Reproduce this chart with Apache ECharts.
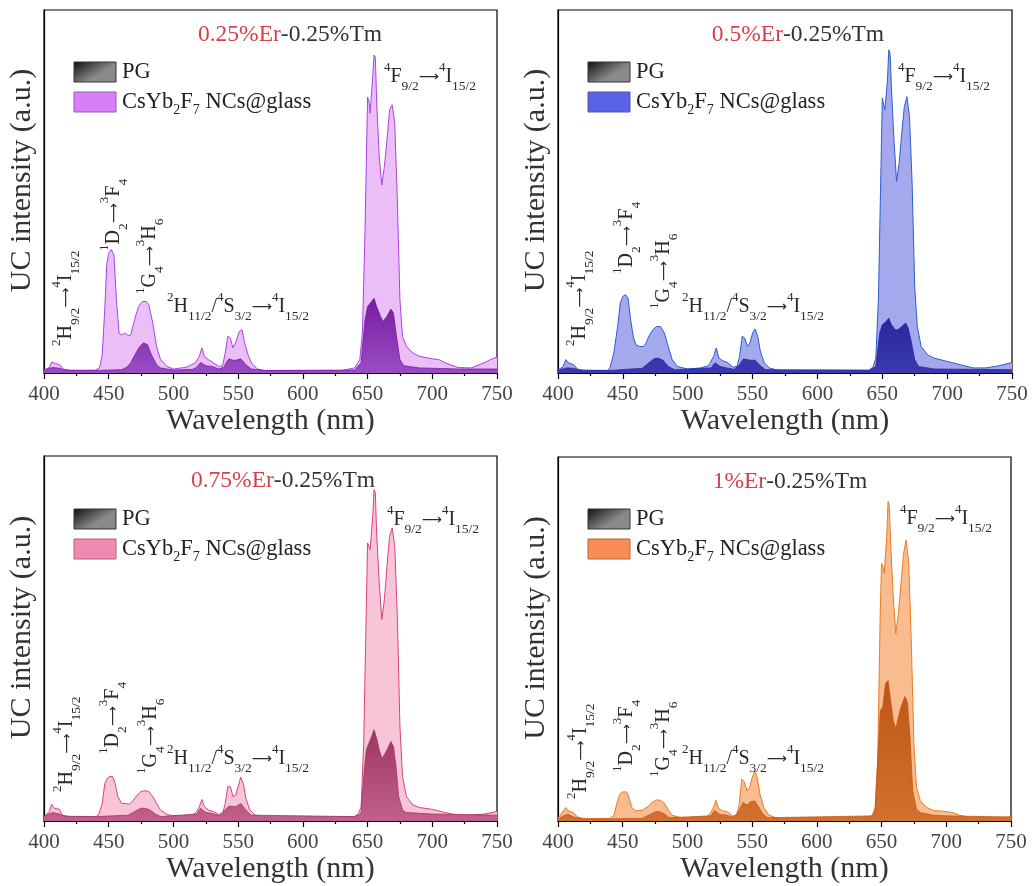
<!DOCTYPE html>
<html><head><meta charset="utf-8">
<script src="https://cdn.jsdelivr.net/npm/echarts@6/dist/echarts.min.js"></script>
<style>html,body{margin:0;padding:0;background:#fff}#c{width:1032px;height:886px}</style>
</head><body><div id="c"></div>
<script>
// ---------------- data ----------------
const xTickValues = [400, 450, 500, 550, 600, 650, 700, 750];
const erLabels = ['0.25%Er', '0.5%Er', '0.75%Er', '1%Er'];
const tmLabel = '-0.25%Tm';
const seriesNames = ['PG', 'CsYb2F7 NCs@glass'];
const xName = 'Wavelength (nm)';
const yName = 'UC intensity (a.u.)';

const glass1 = [[400,0.8],[404,1.5],[406,3.0],[407,3.5],[409,2.6],[412,2.3],[415,1.1],[420,0.7],[430,0.7],[440,0.8],[443,1.5],[445,5],[447,18],[448.5,30],[450,33],[451,33],[452,34],[454,32.5],[456,20],[458,11],[460,10.5],[463,11],[465,10.3],[467,10.5],[470,14.7],[473,18.3],[476,19.7],[479,19.7],[481,18.8],[484,13.8],[487,7.3],[490,3.7],[495,1.8],[500,1.1],[510,1.6],[517,2.8],[520,4.6],[522,6.9],[524,4.5],[527,3.7],[531,2.8],[535,1.8],[538,2.0],[540,5.5],[542,10.1],[544,9.6],[546,6.9],[548,8.3],[551,11.5],[553,11.9],[555,8.3],[558,4.6],[561,2.3],[565,1.1],[570,0.7],[600,0.7],[630,0.7],[640,1.4],[644,3.7],[646,11],[648,38.5],[650,76],[651,75],[652,71.6],[654,81.7],[655,87.6],[656,87],[657,75],[659,59.6],[661,51.8],[663,56.9],[665,64.2],[667,72.5],[669,73.9],[671,68.8],[673,47.7],[675,20.2],[677,10.1],[680,7.3],[685,5.5],[690,4.6],[700,3.9],[705,3.7],[710,2.8],[720,1.5],[730,1.4],[740,2.8],[745,3.7],[750,4.4]];
const pg1 = [[400,0.7],[404,1.3],[407,1.5],[412,1.3],[416,0.8],[440,0.7],[460,0.9],[464,1.6],[467,2.8],[471,5.5],[474,7.3],[477,8.3],[480,7.8],[483,5],[487,2.3],[490,1.4],[500,0.8],[515,1.0],[518,1.6],[521,2.9],[525,2.0],[530,1.8],[535,1.1],[539,1.6],[541,3.0],[543,3.9],[546,3.5],[548,3.5],[552,3.9],[556,2.3],[560,1.1],[570,0.7],[640,0.8],[645,2.8],[648,14.7],[650,18.3],[653,19.7],[655,20.6],[657,18.3],[660,15.6],[662,14.2],[665,15.6],[668,17.6],[670,16.5],[672,11],[675,3.7],[678,2.0],[690,1.4],[720,1.1],[750,1.1]];

const glass2 = [[400,0.8],[404,1.8],[406,3.7],[408,2.8],[412,2.3],[415,1.1],[420,0.7],[438,0.7],[440,1.4],[443,5.5],[446,12.8],[448,19.3],[450,21.1],[452,21.6],[454,20.6],[456,14.7],[458,10.1],[460,7.8],[463,7.3],[466,7.3],[468,8.3],[470,10.1],[473,11.9],[476,12.8],[479,12.8],[482,11],[485,7.3],[488,3.7],[492,1.8],[500,1.1],[510,1.4],[516,2.0],[520,4.6],[522,6.9],[524,4.1],[527,3.4],[531,2.8],[535,1.6],[538,1.8],[540,4.6],[542,10.1],[544,9.6],[546,7.3],[548,8.3],[550,11],[552,12.1],[554,10.1],[556,6],[559,2.8],[563,1.4],[570,0.7],[640,0.7],[643,1.8],[645,4.1],[647,20.2],[649,56.9],[650,75.7],[651,75.2],[652,72.5],[654,80.7],[655,89],[656,88],[657,78.9],[659,64.2],[661,52.8],[663,57.8],[665,66],[667,73.4],[669,76.1],[671,70.6],[673,52.3],[675,23.9],[677,12.8],[680,7.3],[685,5],[690,4.1],[700,3.2],[710,2.3],[720,1.4],[730,1.4],[740,2.0],[750,2.9]];
const pg2 = [[400,0.7],[404,1.2],[407,1.4],[412,1.3],[416,0.8],[440,0.7],[465,1.3],[470,2.8],[474,3.9],[477,4.1],[481,3.5],[485,1.8],[490,0.9],[518,1.4],[521,2.8],[525,1.8],[530,1.4],[536,1.0],[540,2.3],[543,3.9],[548,3.5],[552,3.5],[556,2.0],[560,0.9],[640,0.8],[645,1.8],[648,11],[650,13.3],[653,14.2],[655,15.1],[657,13.3],[660,11.9],[662,11.9],[665,12.8],[668,13.8],[670,12.4],[672,9.2],[675,3.7],[678,1.8],[690,1.1],[750,0.9]];

const glass3 = [[400,1.2],[404,2.6],[406,4.6],[408,3.5],[412,3.2],[414,1.6],[420,1.2],[440,1.2],[442,1.6],[445,4.8],[447,10.3],[449,11.7],[451,12.2],[453,12.2],[455,10.3],[457,6.7],[460,4.8],[463,4.8],[466,4.6],[469,5.7],[472,7.1],[475,8.1],[478,8.3],[481,8.1],[484,6.7],[487,4.8],[490,3.0],[495,1.8],[500,1.4],[515,1.6],[518,2.6],[520,3.9],[522,5.9],[524,3.9],[527,3.0],[531,2.6],[535,1.8],[538,1.9],[540,4.8],[542,9.4],[544,9.4],[546,6.7],[548,7.1],[550,9.4],[552,12],[554,10.3],[556,6.2],[559,3.0],[563,1.6],[570,1.2],[640,1.2],[643,2.1],[645,3.9],[647,21.3],[649,57.9],[650,76.2],[651,76],[652,74.4],[654,83.5],[655,90.8],[656,90],[657,78.9],[659,65.2],[661,55.2],[663,60.7],[665,69.8],[667,78],[669,80.3],[671,75.3],[673,56.1],[675,25.9],[677,12.2],[680,6.7],[685,4.4],[690,3.7],[700,3.2],[710,2.3],[720,1.6],[730,1.6],[740,1.9],[750,2.6]];
const pg3 = [[400,1.2],[404,2.0],[407,2.3],[412,1.9],[416,1.3],[440,1.2],[465,1.6],[470,2.6],[475,3.5],[478,3.5],[482,3.0],[486,1.9],[490,1.2],[518,1.9],[521,3.5],[525,2.3],[530,2.1],[535,1.5],[540,3.0],[543,4.1],[548,3.9],[552,4.8],[556,3.0],[560,1.6],[640,1.2],[645,2.1],[647,12.2],[649,19.5],[651,21.3],[653,23.1],[655,25],[657,22.7],[659,19.5],[661,17.2],[663,18.1],[665,19.5],[668,21.8],[670,20.4],[672,14.9],[674,6.7],[677,3.0],[680,2.3],[700,1.9],[750,1.6]];

const glass4 = [[400,0.7],[404,2.8],[406,3.7],[408,2.8],[412,2.3],[415,1.1],[420,0.7],[440,0.7],[443,1.4],[446,5.5],[448,7.5],[450,8.0],[453,8.0],[455,6.4],[457,3.7],[460,2.8],[465,2.9],[470,4.1],[473,5.2],[476,5.8],[479,5.7],[482,5.0],[485,3.2],[488,1.6],[495,0.9],[515,1.1],[518,2.3],[520,3.7],[522,5.7],[524,3.5],[527,2.8],[531,2.5],[535,1.4],[538,1.6],[540,4.6],[542,11.5],[544,10.8],[546,8.3],[548,9.2],[550,11.9],[552,13.8],[554,11.9],[556,7.4],[559,3.7],[563,1.6],[570,0.7],[640,0.7],[643,1.8],[645,3.7],[647,16.5],[649,57.9],[650,70.8],[651,69.9],[652,68],[654,78.1],[655,87.8],[656,86.4],[657,76.3],[659,61.6],[661,51.5],[663,57],[665,65.3],[667,73.5],[669,77.2],[671,70.8],[673,48.7],[675,21.1],[677,9.2],[680,5.5],[685,3.7],[690,2.9],[700,2.6],[705,2.3],[710,1.6],[720,0.9],[730,0.7],[740,0.9],[750,1.1]];
const pg4 = [[400,0.5],[405,1.6],[408,1.8],[412,1.1],[420,0.5],[465,0.7],[470,1.6],[475,2.5],[478,2.6],[482,2.0],[486,0.9],[518,1.4],[521,2.9],[525,1.8],[530,1.6],[536,1.0],[540,2.9],[543,5.1],[546,4.4],[549,5.3],[552,5.5],[555,3.9],[558,2.0],[562,0.9],[643,1.4],[645,2.8],[647,16.5],[649,30.3],[651,31.3],[653,37.7],[655,38.6],[657,33.1],[659,27.6],[661,25.3],[663,28.5],[665,31.3],[668,34.2],[670,32.6],[672,23],[674,8.3],[677,3.2],[680,2.3],[690,1.6],[700,1.4],[750,1.1]];

const glassData = [glass1, glass2, glass3, glass4];
const pgData = [pg1, pg2, pg3, pg4];

// ---------------- styles / layout ----------------
const SERIF = '"Liberation Serif","Times New Roman","DejaVu Serif",serif';
const grids = [
  {left: 44, top: 10, width: 453, height: 363},
  {left: 558, top: 10, width: 454, height: 363},
  {left: 44, top: 456, width: 453, height: 365},
  {left: 558, top: 457, width: 453, height: 364}
];
const colors = [
  {fill: '#ecbef8', line: '#a943e2', pgTop: '#761c9e', pgBot: '#9a4cc5', swatch: '#d87ff8', swBorder: '#9a55b8'},
  {fill: '#a4a9ee', line: '#2e5cd0', pgTop: '#28279a', pgBot: '#3a3ab0', swatch: '#5a62ea', swBorder: '#5058a0'},
  {fill: '#f8c4d8', line: '#de417c', pgTop: '#9f3563', pgBot: '#c0628a', swatch: '#ef8bb0', swBorder: '#b06080'},
  {fill: '#f9bc8f', line: '#ef7a22', pgTop: '#bf5617', pgBot: '#d2702f', swatch: '#f88e56', swBorder: '#b06838'}
];
// text positions [x,y] in page pixels
const annot = [
  {title: [290, 35], a1: [66, 346], a2: [114, 251], a3: [150, 294], a4: [167, 307], a5: [384, 77], leg: [74, 62]},
  {title: [798, 35], a1: [580, 346], a2: [627, 274], a3: [664, 309], a4: [682, 307], a5: [898, 77], leg: [588, 62]},
  {title: [283, 481], a1: [67, 792], a2: [113, 754], a3: [151, 774], a4: [167, 759], a5: [387, 520], leg: [74, 509]},
  {title: [790, 482], a1: [581, 799], a2: [627, 772], a3: [664, 777], a4: [682, 759], a5: [900, 519], leg: [588, 509]}
];

const ARROW = '⟶';
const richAnn = {
  n: {fontSize: 20, fontFamily: SERIF, fill: '#2a2a2a', color: '#2a2a2a', lineHeight: 32},
  p: {fontSize: 13, fontFamily: SERIF, fill: '#2a2a2a', color: '#2a2a2a', verticalAlign: 'top'},
  b: {fontSize: 13.5, fontFamily: SERIF, fill: '#2a2a2a', color: '#2a2a2a', verticalAlign: 'bottom'},
  r: {fontSize: 14, fontFamily: '"DejaVu Sans",sans-serif', fill: '#2a2a2a', color: '#2a2a2a', lineHeight: 32}
};
const txtA1 = '{p|2}{n|H}{b|9/2}{r|' + ARROW + '}{p|4}{n|I}{b|15/2}';
const txtA2 = '{p|1}{n|D}{b|2}{r|' + ARROW + '}{p|3}{n|F}{b|4}';
const txtA3 = '{p|1}{n|G}{b|4}{r|' + ARROW + '}{p|3}{n|H}{b|6}';
const txtA4 = '{p|2}{n|H}{b|11/2}{n|/}{p|4}{n|S}{b|3/2}{r|' + ARROW + '}{p|4}{n|I}{b|15/2}';
const txtA5 = '{p|4}{n|F}{b|9/2}{r|' + ARROW + '}{p|4}{n|I}{b|15/2}';

const xAxes = [], yAxes = [], series = [], graphics = [];
grids.forEach((g, i) => {
  xAxes.push({
    gridIndex: i, type: 'value', min: 400, max: 750, interval: 50,
    axisLine: {onZero: false, lineStyle: {color: '#000', width: 1.2}},
    axisTick: {show: true, inside: false, length: 6, lineStyle: {color: '#000', width: 1.2}},
    minorTick: {show: true, splitNumber: 2, length: 3, lineStyle: {color: '#000', width: 1.2}},
    splitLine: {show: false},
    axisLabel: {fontSize: 21, fontFamily: SERIF, color: '#444', margin: 11,
      customValues: xTickValues},
    name: xName, nameLocation: 'middle', nameGap: 32,
    nameTextStyle: {fontSize: 30, fontFamily: SERIF, color: '#333'}
  });
  yAxes.push({
    gridIndex: i, type: 'value', min: 0, max: 100,
    axisLine: {show: true, lineStyle: {color: '#000', width: 1.2}},
    axisTick: {show: false}, axisLabel: {show: false}, splitLine: {show: false},
    name: yName, nameLocation: 'middle', nameGap: 7,
    nameTextStyle: {fontSize: 30, fontFamily: SERIF, color: '#333', padding: [0, 0, 0, 22]}
  });
  const c = colors[i];
  series.push({
    name: seriesNames[1], type: 'line', xAxisIndex: i, yAxisIndex: i,
    data: glassData[i], symbol: 'none', smooth: false, z: 2,
    lineStyle: {color: c.line, width: 1},
    areaStyle: {color: c.fill, opacity: 1}
  });
  series.push({
    name: seriesNames[0], type: 'line', xAxisIndex: i, yAxisIndex: i,
    data: pgData[i], symbol: 'none', smooth: false, z: 3,
    lineStyle: {color: c.pgTop, width: 0.8},
    areaStyle: {opacity: 1, color: new echarts.graphic.LinearGradient(0, 0, 0, 1,
      [{offset: 0, color: c.pgTop}, {offset: 1, color: c.pgBot}])}
  });

  const a = annot[i];
  // title
  graphics.push({type: 'text', x: a.title[0], y: a.title[1], z: 10, style: {
    text: '{r|' + erLabels[i] + '}{k|' + tmLabel + '}', align: 'center', verticalAlign: 'middle',
    rich: {r: {fontSize: 23.5, fontFamily: SERIF, fill: '#d8404a', color: '#d8404a'},
           k: {fontSize: 23.5, fontFamily: SERIF, fill: '#333', color: '#333'}}}});
  // rotated annotations
  [[a.a1, txtA1], [a.a2, txtA2], [a.a3, txtA3]].forEach(([p, t]) => {
    graphics.push({type: 'text', x: p[0], y: p[1], rotation: Math.PI / 2, z: 10,
      style: {text: t, rich: richAnn, align: 'left', verticalAlign: 'middle'}});
  });
  [[a.a4, txtA4], [a.a5, txtA5]].forEach(([p, t]) => {
    graphics.push({type: 'text', x: p[0], y: p[1], z: 10,
      style: {text: t, rich: richAnn, align: 'left', verticalAlign: 'middle'}});
  });
  // legend
  const lx = a.leg[0], ly = a.leg[1];
  graphics.push({type: 'rect', x: lx, y: ly, z: 10, shape: {width: 42, height: 20},
    style: {fill: new echarts.graphic.LinearGradient(0, 0, 0.3, 1,
      [{offset: 0, color: '#0d0d0d'}, {offset: 1, color: '#8a8a8a'}]), stroke: '#333', lineWidth: 1}});
  graphics.push({type: 'rect', x: lx, y: ly + 30, z: 10, shape: {width: 42, height: 20},
    style: {fill: c.swatch, stroke: c.swBorder, lineWidth: 1}});
  graphics.push({type: 'text', x: lx + 48, y: ly + 10, z: 10, style: {
    text: seriesNames[0], fontSize: 22.5, fontFamily: SERIF, fill: '#222', align: 'left', verticalAlign: 'middle'}});
  graphics.push({type: 'text', x: lx + 48, y: ly + 40, z: 10, style: {
    text: '{n|CsYb}{s|2}{n|F}{s|7}{n| NCs@glass}', align: 'left', verticalAlign: 'middle',
    rich: {n: {fontSize: 22.5, fontFamily: SERIF, fill: '#222', color: '#222', lineHeight: 30},
           s: {fontSize: 14, fontFamily: SERIF, fill: '#222', color: '#222', verticalAlign: 'bottom'}}}});
});

const chart = echarts.init(document.getElementById('c'), null, {renderer: 'canvas'});
chart.setOption({
  animation: false,
  backgroundColor: '#fff',
  grid: grids.map(g => Object.assign({show: true, borderColor: '#000', borderWidth: 1.2, backgroundColor: 'transparent'}, g)),
  xAxis: xAxes,
  yAxis: yAxes,
  series: series,
  graphic: graphics
});
</script>
</body></html>
